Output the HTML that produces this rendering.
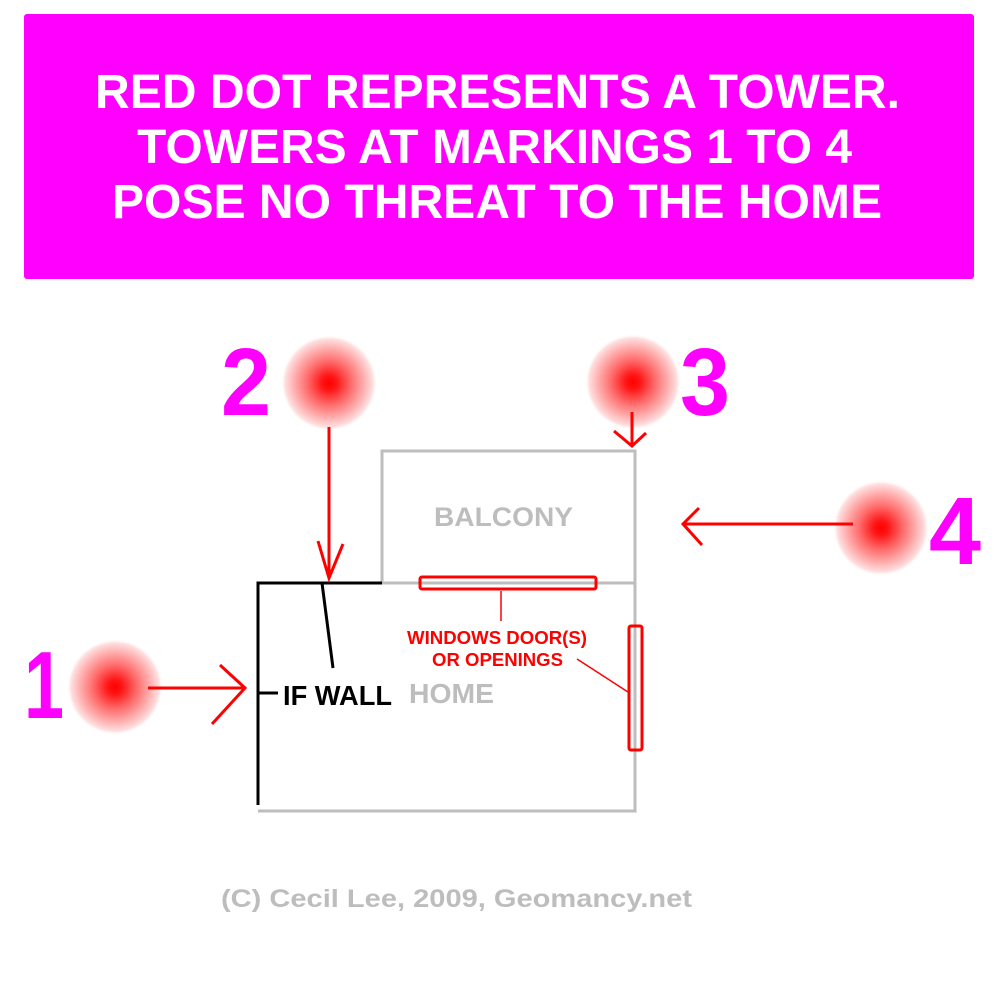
<!DOCTYPE html>
<html><head><meta charset="utf-8"><style>
html,body{margin:0;padding:0;background:#fff;}
svg{display:block;}
text{font-family:"Liberation Sans",Arial,sans-serif;font-weight:bold;}
</style></head><body>
<svg width="994" height="990" viewBox="0 0 994 990" xmlns="http://www.w3.org/2000/svg">
<defs>
<radialGradient id="g">
<stop offset="0" stop-color="#ff0000"/>
<stop offset="0.15" stop-color="#ff1515"/>
<stop offset="0.45" stop-color="#ff6a6a"/>
<stop offset="0.75" stop-color="#ffb4b4"/>
<stop offset="0.92" stop-color="#ffe0e0"/>
<stop offset="1" stop-color="#ffffff" stop-opacity="0"/>
</radialGradient>
</defs>
<rect x="24" y="14" width="950" height="265" rx="3" fill="#ff00ff"/>
<g fill="#fff" font-size="48" text-anchor="start">
<text x="95" y="108" textLength="805" lengthAdjust="spacingAndGlyphs">RED DOT REPRESENTS A TOWER.</text>
<text x="137" y="163" textLength="715" lengthAdjust="spacingAndGlyphs">TOWERS AT MARKINGS 1 TO 4</text>
<text x="112" y="218" textLength="770" lengthAdjust="spacingAndGlyphs">POSE NO THREAT TO THE HOME</text>
</g>

<circle cx="329" cy="383" r="48" fill="url(#g)"/>
<circle cx="115" cy="687" r="48" fill="url(#g)"/>
<circle cx="633" cy="382" r="48" fill="url(#g)"/>
<circle cx="881" cy="528" r="48" fill="url(#g)"/>

<g fill="#ff00ff" font-size="96">
<text x="221" y="415" textLength="50" lengthAdjust="spacingAndGlyphs">2</text>
<text x="24" y="718" textLength="40" lengthAdjust="spacingAndGlyphs">1</text>
<text x="680" y="415" textLength="50" lengthAdjust="spacingAndGlyphs">3</text>
<text x="929" y="564" textLength="52" lengthAdjust="spacingAndGlyphs">4</text>
</g>

<g stroke="#bdbdbd" stroke-width="3" fill="none">
<path d="M382 583 V451 H635 V811 H258"/>
<path d="M382 583 H635"/>
</g>
<g stroke="#000" stroke-width="3" fill="none">
<path d="M258 805 V583 H382"/>
<path d="M322 583 L333 668"/>
<path d="M258 693 H278"/>
</g>

<g stroke="#ff0000" stroke-width="3" fill="none">
<path d="M329 427 V578 M318 541 L329 578 L343 544"/>
<path d="M148 688 H245 M220 665 L245 688 L212 724"/>
<path d="M632 412 V446 M614 431 L632 446 L646 433"/>
<path d="M853 524 H683 M699 508 L683 524 L702 545"/>
<rect x="420" y="577" width="176" height="12" rx="2"/>
<rect x="629" y="626" width="13" height="124" rx="2"/>
</g>
<g stroke="#ff0000" stroke-width="1.5">
<path d="M501 591 V621"/>
<path d="M577 659 L628 692"/>
</g>

<text x="434" y="526" font-size="27" fill="#bdbdbd" textLength="139" lengthAdjust="spacingAndGlyphs">BALCONY</text>
<text x="409" y="703" font-size="28" fill="#bdbdbd" textLength="85" lengthAdjust="spacingAndGlyphs">HOME</text>
<text x="283" y="705" font-size="28" fill="#000" textLength="109" lengthAdjust="spacingAndGlyphs">IF WALL</text>
<text x="407" y="644" font-size="18" fill="#ff0000" textLength="180" lengthAdjust="spacingAndGlyphs">WINDOWS DOOR(S)</text>
<text x="432" y="666" font-size="18" fill="#ff0000" textLength="131" lengthAdjust="spacingAndGlyphs">OR OPENINGS</text>
<text x="221" y="907" font-size="25" fill="#bdbdbd" textLength="471" lengthAdjust="spacingAndGlyphs">(C) Cecil Lee, 2009, Geomancy.net</text>
</svg>
</body></html>
